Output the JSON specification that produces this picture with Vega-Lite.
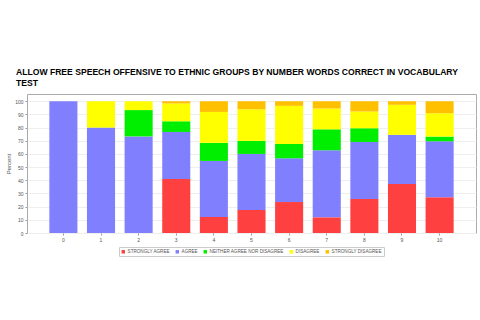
{
  "$schema": "https://vega.github.io/schema/vega-lite/v6.json",
  "width": 449,
  "height": 139,
  "autosize": {"type": "none"},
  "padding": {"left": 27, "top": 94, "right": 4, "bottom": 87},
  "background": "white",
  "title": {
    "text": ["ALLOW FREE SPEECH OFFENSIVE TO ETHNIC GROUPS BY NUMBER WORDS CORRECT IN VOCABULARY", "TEST"],
    "anchor": "start",
    "frame": "group",
    "dx": -11,
    "offset": 6,
    "font": "Liberation Sans",
    "fontSize": 8.6,
    "fontWeight": "bold",
    "color": "#000000",
    "lineHeight": 11
  },
  "data": {
    "values": [
      {"words": 0, "response": "AGREE", "percent": 100},
      {"words": 1, "response": "AGREE", "percent": 80},
      {"words": 1, "response": "DISAGREE", "percent": 20},
      {"words": 2, "response": "AGREE", "percent": 73.3},
      {"words": 2, "response": "NEITHER AGREE NOR DISAGREE", "percent": 20},
      {"words": 2, "response": "DISAGREE", "percent": 6.7},
      {"words": 3, "response": "STRONGLY AGREE", "percent": 41},
      {"words": 3, "response": "AGREE", "percent": 35.7},
      {"words": 3, "response": "NEITHER AGREE NOR DISAGREE", "percent": 8.1},
      {"words": 3, "response": "DISAGREE", "percent": 13.5},
      {"words": 3, "response": "STRONGLY DISAGREE", "percent": 1.7},
      {"words": 4, "response": "STRONGLY AGREE", "percent": 12.2},
      {"words": 4, "response": "AGREE", "percent": 42.5},
      {"words": 4, "response": "NEITHER AGREE NOR DISAGREE", "percent": 13.7},
      {"words": 4, "response": "DISAGREE", "percent": 23.5},
      {"words": 4, "response": "STRONGLY DISAGREE", "percent": 8.1},
      {"words": 5, "response": "STRONGLY AGREE", "percent": 17.5},
      {"words": 5, "response": "AGREE", "percent": 42.5},
      {"words": 5, "response": "NEITHER AGREE NOR DISAGREE", "percent": 9.9},
      {"words": 5, "response": "DISAGREE", "percent": 24},
      {"words": 5, "response": "STRONGLY DISAGREE", "percent": 6.1},
      {"words": 6, "response": "STRONGLY AGREE", "percent": 23.5},
      {"words": 6, "response": "AGREE", "percent": 33.2},
      {"words": 6, "response": "NEITHER AGREE NOR DISAGREE", "percent": 10.9},
      {"words": 6, "response": "DISAGREE", "percent": 28.9},
      {"words": 6, "response": "STRONGLY DISAGREE", "percent": 3.5},
      {"words": 7, "response": "STRONGLY AGREE", "percent": 11.9},
      {"words": 7, "response": "AGREE", "percent": 50.9},
      {"words": 7, "response": "NEITHER AGREE NOR DISAGREE", "percent": 15.9},
      {"words": 7, "response": "DISAGREE", "percent": 15.8},
      {"words": 7, "response": "STRONGLY DISAGREE", "percent": 5.5},
      {"words": 8, "response": "STRONGLY AGREE", "percent": 25.8},
      {"words": 8, "response": "AGREE", "percent": 43.3},
      {"words": 8, "response": "NEITHER AGREE NOR DISAGREE", "percent": 10.4},
      {"words": 8, "response": "DISAGREE", "percent": 12.7},
      {"words": 8, "response": "STRONGLY DISAGREE", "percent": 7.8},
      {"words": 9, "response": "STRONGLY AGREE", "percent": 37.2},
      {"words": 9, "response": "AGREE", "percent": 37.3},
      {"words": 9, "response": "DISAGREE", "percent": 22.8},
      {"words": 9, "response": "STRONGLY DISAGREE", "percent": 2.7},
      {"words": 10, "response": "STRONGLY AGREE", "percent": 27.1},
      {"words": 10, "response": "AGREE", "percent": 42.5},
      {"words": 10, "response": "NEITHER AGREE NOR DISAGREE", "percent": 3.6},
      {"words": 10, "response": "DISAGREE", "percent": 17.7},
      {"words": 10, "response": "STRONGLY DISAGREE", "percent": 9.1}
    ]
  },
  "transform": [
    {"calculate": "indexof(['STRONGLY AGREE','AGREE','NEITHER AGREE NOR DISAGREE','DISAGREE','STRONGLY DISAGREE'], datum.response)", "as": "k"}
  ],
  "mark": {"type": "bar"},
  "encoding": {
    "x": {
      "field": "words",
      "type": "ordinal",
      "scale": {"paddingInner": 0.254, "paddingOuter": 0.594},
      "axis": {"title": null, "labelAngle": 0, "labelFontSize": 5, "labelColor": "#555555", "tickSize": 2, "tickColor": "#999999", "domain": false, "labelPadding": 2}
    },
    "y": {
      "field": "percent",
      "type": "quantitative",
      "stack": "zero",
      "scale": {"domain": [0, 105.5], "nice": false},
      "axis": {"title": "Percent", "values": [0,10,20,30,40,50,60,70,80,90,100], "labelFontSize": 5, "labelColor": "#555555", "tickSize": 2, "tickColor": "#999999", "domain": false, "gridColor": "#eeeeee", "titleFontSize": 6, "titleFontWeight": "normal", "titleColor": "#555555", "titlePadding": 3, "labelPadding": 2}
    },
    "color": {
      "field": "response",
      "type": "nominal",
      "scale": {
        "domain": ["STRONGLY AGREE", "AGREE", "NEITHER AGREE NOR DISAGREE", "DISAGREE", "STRONGLY DISAGREE"],
        "range": ["#FF4040", "#8080FF", "#00EE00", "#FFFF00", "#FFC000"]
      },
      "legend": {
        "title": null,
        "orient": "bottom",
        "direction": "horizontal",
        "symbolType": "square",
        "symbolSize": 12,
        "symbolStrokeWidth": 0,
        "labelFontSize": 4.6,
        "labelColor": "#555555",
        "columnPadding": 5,
        "labelOffset": 2,
        "padding": 2,
        "strokeColor": "#cccccc",
        "fillColor": "#ffffff",
        "offset": 5
      }
    },
    "order": {"field": "k", "type": "quantitative"}
  },
  "config": {
    "font": "Liberation Sans",
    "view": {"stroke": "#aaaaaa", "fill": "#ffffff"},
    "legend": {"layout": {"bottom": {"anchor": "middle"}}}
  }
}
